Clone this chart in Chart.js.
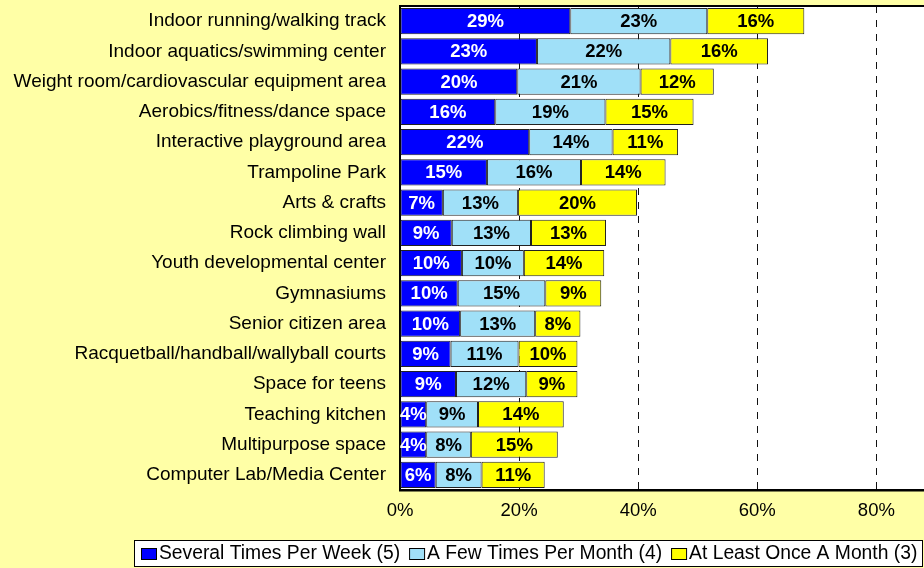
<!DOCTYPE html>
<html>
<head>
<meta charset="utf-8">
<script src="https://cdn.jsdelivr.net/npm/chart.js@4.4.0/dist/chart.umd.min.js"></script>
<style>
  body { margin: 0; background: #FFFFA6; overflow: hidden; }
  #wrap { width: 924px; height: 568px; }
</style>
</head>
<body>
<div id="wrap"><canvas id="myChart" width="924" height="568"></canvas></div>
<script>
// facility types, top to bottom
var categories = [
  'Indoor running/walking track',
  'Indoor aquatics/swimming center',
  'Weight room/cardiovascular equipment area',
  'Aerobics/fitness/dance space',
  'Interactive playground area',
  'Trampoline Park',
  'Arts & crafts',
  'Rock climbing wall',
  'Youth developmental center',
  'Gymnasiums',
  'Senior citizen area',
  'Racquetball/handball/wallyball courts',
  'Space for teens',
  'Teaching kitchen',
  'Multipurpose space',
  'Computer Lab/Media Center'
];

var seriesNames = ['Several Times Per Week (5)', 'A Few Times Per Month (4)', 'At Least Once A Month (3)'];

// percent of respondents
var severalPerWeek = [28.6, 23.0, 19.7, 16.0, 21.7, 14.6, 7.2, 8.7, 10.4, 9.7, 10.1, 8.5, 9.4, 4.4, 4.4, 6.0];
var fewPerMonth    = [23.0, 22.4, 20.7, 18.5, 14.0, 15.8, 12.6, 13.3, 10.4, 14.7, 12.6, 11.4, 11.8, 8.7, 7.5, 7.7];
var oncePerMonth   = [16.3, 16.4, 12.3, 14.8, 11.0, 14.2, 20.0, 12.6, 13.5, 9.4, 7.6, 9.9, 8.6, 14.4, 14.6, 10.6];

var xTicks = [0, 20, 40, 60, 80];

var FONT = "'Liberation Sans', Arial, sans-serif";
var BG = '#FFFFA6';

// background, white plot area, top frame line
var backdrop = {
  id: 'backdrop',
  beforeDraw: function (chart) {
    var ctx = chart.ctx, a = chart.chartArea;
    ctx.save();
    ctx.fillStyle = BG;
    ctx.fillRect(0, 0, chart.width, chart.height);
    ctx.fillStyle = '#ffffff';
    ctx.fillRect(a.left, a.top, a.right - a.left, a.bottom - a.top);
    ctx.restore();
  },
  afterDraw: function (chart) {
    var ctx = chart.ctx, a = chart.chartArea;
    ctx.save();
    ctx.strokeStyle = '#000';
    ctx.lineWidth = 2;
    ctx.beginPath();
    ctx.moveTo(a.left, a.top);
    ctx.lineTo(a.right, a.top);
    ctx.stroke();
    ctx.restore();
  }
};

// boxed legend like the excel one (swatch right next to its text)
var boxLegend = {
  id: 'boxLegend',
  afterDraw: function (chart) {
    var ctx = chart.ctx;
    var left = 134, top = 540, bottom = 566, right = 922;
    ctx.save();
    ctx.fillStyle = '#ffffff';
    ctx.fillRect(left, top, right - left, bottom - top);
    ctx.strokeStyle = '#000';
    ctx.lineWidth = 1;
    ctx.strokeRect(left + 0.5, top + 0.5, right - left, bottom - top);
    ctx.font = '19.3px ' + FONT;
    ctx.textBaseline = 'middle';
    ctx.textAlign = 'left';
    var x = left + 7, cy = (top + bottom) / 2 + 1;
    chart.data.datasets.forEach(function (ds) {
      ctx.fillStyle = ds.backgroundColor;
      ctx.fillRect(x, cy - 6, 15, 11);
      ctx.strokeStyle = '#000';
      ctx.strokeRect(x + 0.5, cy - 5.5, 15, 11);
      ctx.fillStyle = '#000';
      ctx.fillText(ds.label, x + 18, cy);
      x += 18 + ctx.measureText(ds.label).width + 9;
    });
    ctx.restore();
  }
};

// value labels in the middle of each segment
var barLabels = {
  id: 'barLabels',
  afterDatasetsDraw: function (chart) {
    var ctx = chart.ctx;
    ctx.save();
    ctx.font = 'bold 18.5px ' + FONT;
    ctx.textAlign = 'center';
    ctx.textBaseline = 'middle';
    chart.data.datasets.forEach(function (ds, i) {
      var meta = chart.getDatasetMeta(i);
      ctx.fillStyle = i === 0 ? '#ffffff' : '#000000';
      meta.data.forEach(function (bar, j) {
        var x = (bar.x + bar.base) / 2;
        ctx.fillText(Math.round(ds.data[j]) + '%', x, bar.y + 1);
      });
    });
    ctx.restore();
  }
};

var ctx = document.getElementById('myChart').getContext('2d');
var chart = new Chart(ctx, {
  type: 'bar',
  data: {
    labels: categories,
    datasets: [
      { label: seriesNames[0], data: severalPerWeek, backgroundColor: '#0000FF' },
      { label: seriesNames[1], data: fewPerMonth, backgroundColor: '#A0E0F8' },
      { label: seriesNames[2], data: oncePerMonth, backgroundColor: '#FFFF00' }
    ]
  },
  options: {
    indexAxis: 'y',
    responsive: false,
    animation: false,
    layout: { padding: { top: 6, bottom: 36, left: 0, right: 0 } },
    datasets: {
      bar: {
        borderColor: '#222222',
        borderWidth: 1,
        borderSkipped: false,
        barPercentage: 0.86,
        categoryPercentage: 1.0
      }
    },
    scales: {
      x: {
        stacked: true,
        min: 0,
        max: 88,
        afterFit: function (s) { s.height = 42; s.paddingLeft = 0; s.paddingRight = 0; },
        afterBuildTicks: function (s) { s.ticks = xTicks.map(function (v) { return { value: v }; }); },
        ticks: {
          includeBounds: false,
          padding: 10,
          color: '#000',
          font: { family: FONT, size: 18.5 },
          callback: function (v) { return v + '%'; }
        },
        grid: { color: '#111', lineWidth: 1, drawTicks: false },
        border: { color: '#000', width: 2.5, dash: [7, 7] }
      },
      y: {
        stacked: true,
        afterFit: function (s) { s.width = 400; s.paddingTop = 0; s.paddingBottom = 0; },
        ticks: {
          padding: 14,
          color: '#000',
          font: { family: FONT, size: 19 }
        },
        grid: { display: false, drawTicks: false },
        border: { color: '#000', width: 2 }
      }
    },
    plugins: {
      legend: { display: false },
      tooltip: { enabled: false }
    }
  },
  plugins: [backdrop, boxLegend, barLabels]
});
</script>
</body>
</html>
